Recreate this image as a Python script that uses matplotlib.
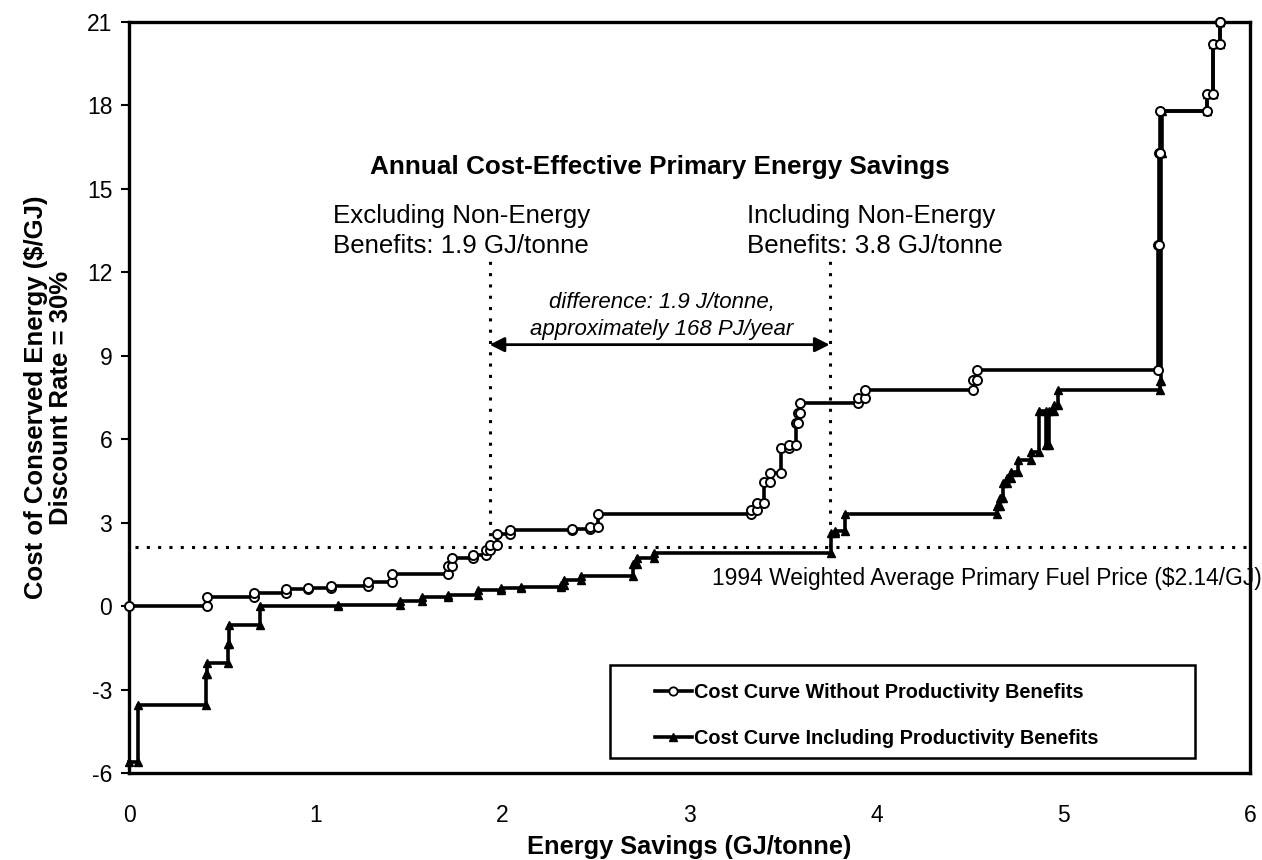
import matplotlib
matplotlib.use("Agg")
import matplotlib.pyplot as plt
from matplotlib.lines import Line2D
from matplotlib.patches import Rectangle

plt.rcParams['font.family'] = ['Liberation Sans', 'DejaVu Sans']
plt.rcParams['axes.unicode_minus'] = False

# ---- data: step boundaries (start of each measure) and cost of conserved energy ----
without_start = [0.00, 0.42, 0.67, 0.84, 0.96, 1.08, 1.28, 1.41, 1.71, 1.73,
                 1.84, 1.91, 1.93, 1.97, 2.04, 2.37, 2.47, 2.51, 3.33, 3.36,
                 3.40, 3.43, 3.49, 3.53, 3.57, 3.58, 3.59, 3.90, 3.94, 4.52,
                 4.54, 5.51, 5.515, 5.52, 5.77, 5.80, 5.84]
without_cost = [0.00, 0.33, 0.47, 0.62, 0.66, 0.72, 0.87, 1.14, 1.45, 1.72,
                1.83, 2.00, 2.20, 2.60, 2.73, 2.78, 2.85, 3.30, 3.45, 3.70,
                4.45, 4.78, 5.68, 5.80, 6.58, 6.94, 7.30, 7.50, 7.77, 8.13,
                8.50, 13.0, 16.3, 17.8, 18.4, 20.2, 21.0]
without_end = 5.84

with_start = [0.00, 0.05, 0.41, 0.415, 0.53, 0.535, 0.70, 1.12, 1.45, 1.57,
              1.71, 1.87, 1.99, 2.10, 2.31, 2.33, 2.42, 2.70, 2.72, 2.81,
              3.76, 3.78, 3.83, 4.645, 4.66, 4.68, 4.70, 4.72, 4.76, 4.83,
              4.87, 4.91, 4.925, 4.95, 4.97, 5.52, 5.525, 5.53, 5.77, 5.80,
              5.84]
with_cost = [-5.60, -3.56, -2.45, -2.05, -1.35, -0.68, 0.00, 0.05, 0.20, 0.32,
             0.40, 0.58, 0.65, 0.68, 0.76, 0.94, 1.10, 1.50, 1.72, 1.92,
             2.62, 2.70, 3.30, 3.60, 3.88, 4.42, 4.60, 4.83, 5.25, 5.55,
             7.00, 5.80, 7.00, 7.23, 7.77, 8.10, 16.3, 17.8, 18.4, 20.2,
             21.0]
with_end = 5.84

fuel_price = 2.14
excl_savings = 1.93
incl_savings = 3.75

x_ticks = [0, 1, 2, 3, 4, 5, 6]
y_ticks = [-6, -3, 0, 3, 6, 9, 12, 15, 18, 21]

legend_labels = ["Cost Curve Without Productivity Benefits",
                 "Cost Curve Including Productivity Benefits"]


def step_path(starts, costs, end):
    xs, ys = [], []
    bounds = list(starts[1:]) + [end]
    for s, e, c in zip(starts, bounds, costs):
        xs += [s, e]
        ys += [c, c]
    return xs, ys


fig = plt.figure(figsize=(12.62, 8.6), dpi=100)
ax = fig.add_axes([129/1262, 1-773/860, (1250-129)/1262, (773-22)/860])
ax.set_xlim(0, 6)
ax.set_ylim(-6, 21)

dot = (0, (1, 2.7))
ax.plot([0.03, 6], [fuel_price, fuel_price], color='black', lw=2.2,
        linestyle=dot, dash_capstyle='butt', zorder=2)
for xv in (excl_savings, incl_savings):
    ax.plot([xv, xv], [fuel_price, 12.5], color='black', lw=2.2,
            linestyle=dot, dash_capstyle='butt', zorder=2)

xs1, ys1 = step_path(without_start, without_cost, without_end)
xs2, ys2 = step_path(with_start, with_cost, with_end)
ax.plot(xs2, ys2, color='black', lw=2.6, marker='^', markersize=5.5,
        markerfacecolor='black', markeredgecolor='black', zorder=4,
        clip_on=False)
ax.plot(xs1, ys1, color='black', lw=2.6, marker='o', markersize=6.5,
        markerfacecolor='white', markeredgecolor='black', markeredgewidth=1.4,
        zorder=5, clip_on=False)

ax.annotate('', xy=(incl_savings, 9.4), xytext=(excl_savings, 9.4),
            arrowprops=dict(arrowstyle='<|-|>', color='black', lw=2,
                            mutation_scale=22, shrinkA=0, shrinkB=0))

ax.text(2.84, 15.8, "Annual Cost-Effective Primary Energy Savings",
        ha='center', va='center', fontsize=18.8, fontweight='bold')
ax.text(1.09, 13.48, "Excluding Non-Energy\nBenefits: 1.9 GJ/tonne",
        ha='left', va='center', fontsize=18.6, linespacing=1.32)
ax.text(3.31, 13.48, "Including Non-Energy\nBenefits: 3.8 GJ/tonne",
        ha='left', va='center', fontsize=18.6, linespacing=1.32)
ax.text(2.85, 10.44, "difference: 1.9 J/tonne,\napproximately 168 PJ/year",
        ha='center', va='center', fontsize=16, style='italic',
        linespacing=1.35)
ax.text(3.12, 1.0, "1994 Weighted Average Primary Fuel Price ($2.14/GJ)",
        ha='left', va='center', fontsize=16.4, clip_on=False)

ax.set_xticks(x_ticks)
ax.set_yticks(y_ticks)
ax.tick_params(axis='x', length=0, pad=22, labelsize=16.5)
ax.tick_params(axis='y', length=6, width=1.5, direction='out', pad=6,
               labelsize=16.5)
for sp in ax.spines.values():
    sp.set_linewidth(2.4)

ax.set_xlabel("Energy Savings (GJ/tonne)", fontsize=18.3, fontweight='bold',
              labelpad=6)
ax.set_ylabel("Cost of Conserved Energy ($/GJ)\nDiscount Rate = 30%",
              fontsize=18.5, fontweight='bold', labelpad=10, linespacing=1.05)

handles = [Line2D([], [], color='black', lw=2.6, marker='o', markersize=6,
                  markerfacecolor='white', markeredgecolor='black',
                  markeredgewidth=1.3),
           Line2D([], [], color='black', lw=2.6, marker='^', markersize=5.5,
                  markerfacecolor='black')]
box = Rectangle(((610-129)/1121, (773-758)/751), (1195-610)/1121,
                (758-665)/751, transform=ax.transAxes, facecolor='white',
                edgecolor='black', lw=1.8, zorder=6)
ax.add_patch(box)
leg = ax.legend(handles, legend_labels, loc='center left',
                bbox_to_anchor=((655-129)/1121, (773-715.5)/751),
                frameon=False, prop={'weight': 'bold', 'size': 14.3},
                handlelength=1.86, handletextpad=0.1, labelspacing=1.35,
                borderpad=0, borderaxespad=0)
leg.set_zorder(7)

fig.savefig('out.png', dpi=100)
